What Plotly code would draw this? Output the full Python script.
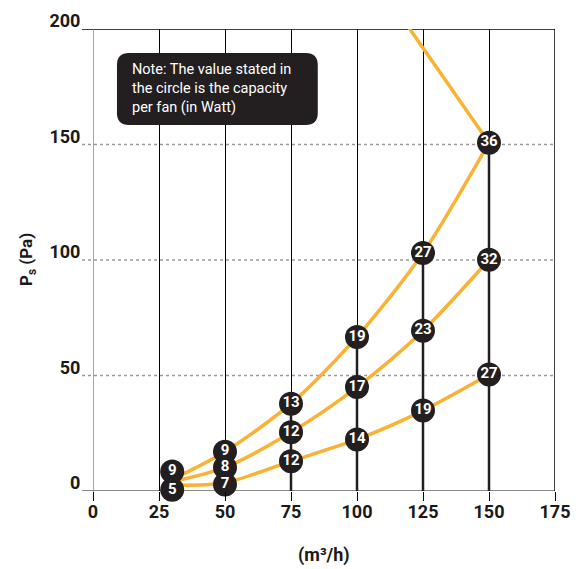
import plotly.graph_objects as go

# ---- data ----
x_ticks = [0, 25, 50, 75, 100, 125, 150, 175]
y_ticks = [0, 50, 100, 150, 200]

# fan curves (m3/h vs Pa)
curve_x = [30, 50, 75, 100, 125, 150]
curve_high = [5.0, 17.0, 37.8, 66.7, 103.0, 150.8]
curve_mid = [4.0, 10.2, 25.4, 45.0, 69.4, 100.1]
curve_low = [2.5, 3.6, 12.9, 22.3, 34.8, 50.4]

# system line beyond the top point
system_x = [150, 110]
system_y = [150.8, 216.4]

# circles: position and fan capacity (W)
pt_x = [30, 30, 50, 50, 50, 75, 75, 75, 100, 100, 100, 125, 125, 125, 150, 150, 150]
pt_y = [8.4, 0.5, 17.0, 10.2, 2.8, 37.8, 25.4, 12.9, 66.7, 45.0, 22.3, 103.0, 69.4, 34.8, 150.8, 100.1, 50.4]
pt_w = [9, 5, 9, 8, 7, 13, 12, 12, 19, 17, 14, 27, 23, 19, 36, 32, 27]

# stems from the axis to the top circle of each column
stem_x = [30, 50, 75, 100, 125, 150]
stem_top = [8.4, 17.0, 37.8, 66.7, 103.0, 150.8]

note_lines = ["Note: The value stated in", "the circle is the capacity", "per fan (in Watt)"]

# ---- style ----
ORANGE = "#F9B233"
DARK = "#231F20"
OFF = 8  # page body margin
VW, VH = 580, 569
L_ABS, R_ABS, T_ABS, B_ABS = 93, 555.5, 29, 491.5
PW, PH = R_ABS - L_ABS, B_ABS - T_ABS
W, H = VW - OFF, VH - OFF
ML, MT = L_ABS - OFF, T_ABS - OFF
MR, MB = W - (R_ABS - OFF), H - (B_ABS - OFF)

px_x = PW / 175.0
px_y = PH / 200.0


def dx(xpix):
    return (xpix - L_ABS) / px_x


def dy(ypix):
    return (B_ABS - ypix) / px_y


fig = go.Figure()

for sx, st in zip(stem_x, stem_top):
    fig.add_trace(go.Scatter(x=[sx, sx], y=[0, st], mode="lines",
                             line=dict(color=DARK, width=2.5), hoverinfo="skip",
                             showlegend=False))

for cy in (curve_high, curve_mid, curve_low):
    fig.add_trace(go.Scatter(x=curve_x, y=cy, mode="lines",
                             line=dict(color=ORANGE, width=3.5, shape="spline", smoothing=0.8),
                             showlegend=False))

fig.add_trace(go.Scatter(x=system_x, y=system_y, mode="lines",
                         line=dict(color=ORANGE, width=3.5), showlegend=False))

fig.add_trace(go.Scatter(x=pt_x, y=pt_y, mode="markers+text",
                         text=[str(v) for v in pt_w], textposition="middle center",
                         textfont=dict(family="Roboto", size=15, color="white", weight=700),
                         marker=dict(size=24, color=DARK, line=dict(width=0)),
                         cliponaxis=False, showlegend=False))

shapes = []
ext = -11 / PW
shapes.append(dict(type="line", xref="paper", yref="y", x0=ext, x1=1, y0=0, y1=0,
                   line=dict(color="#8a8a8a", width=2), layer="below"))
shapes.append(dict(type="line", xref="paper", yref="y", x0=ext, x1=1, y0=200, y1=200,
                   line=dict(color="black", width=1.5), layer="below"))
for yv in y_ticks[1:-1]:
    shapes.append(dict(type="line", xref="paper", yref="y", x0=ext, x1=1, y0=yv, y1=yv,
                       line=dict(color="#9a9a9a", width=1.3, dash="3px,3px"), layer="below"))
shapes.append(dict(type="line", xref="x", yref="paper", x0=0, x1=0, y0=-9 / PH, y1=1,
                   line=dict(color="#8a8a8a", width=1.5), layer="below"))
shapes.append(dict(type="line", xref="x", yref="paper", x0=175, x1=175, y0=0, y1=1,
                   line=dict(color="black", width=1.5), layer="below"))

# rounded note box
bx0, bx1 = dx(117), dx(318)
by1, by0 = dy(53), dy(125)
rx, ry = 12 / px_x, 12 / px_y
path = (f"M {bx0+rx},{by1} L {bx1-rx},{by1} Q {bx1},{by1} {bx1},{by1-ry} "
        f"L {bx1},{by0+ry} Q {bx1},{by0} {bx1-rx},{by0} L {bx0+rx},{by0} "
        f"Q {bx0},{by0} {bx0},{by0+ry} L {bx0},{by1-ry} Q {bx0},{by1} {bx0+rx},{by1} Z")
shapes.append(dict(type="path", xref="x", yref="y", path=path, fillcolor=DARK,
                   line=dict(width=0), layer="above"))

annotations = []
for i, line in enumerate(note_lines):
    annotations.append(dict(x=dx(130), y=dy(70 + 19 * i), xref="x", yref="y",
                            text=line, showarrow=False, xanchor="left", yanchor="middle",
                            font=dict(family="Roboto", size=14.5, color="white")))

annotations.append(dict(x=(27 - L_ABS) / PW, y=0.5, xref="paper", yref="paper",
                        text="<b>P<sub>s</sub> (Pa)</b>", textangle=-90, showarrow=False,
                        xanchor="center", yanchor="middle",
                        font=dict(family="Roboto", size=17, color="#1a1a1a")))
annotations.append(dict(x=0.5, y=-(556 - B_ABS) / PH, xref="paper", yref="paper",
                        text="<b>(m³/h)</b>", showarrow=False, xanchor="center", yanchor="middle",
                        font=dict(family="Roboto", size=18, color="#1a1a1a")))

fig.update_layout(
    width=W, height=H,
    margin=dict(l=ML, r=MR, t=MT, b=MB, autoexpand=False),
    plot_bgcolor="white", paper_bgcolor="white",
    shapes=shapes, annotations=annotations,
    xaxis=dict(range=[0, 175], tickvals=x_ticks, ticktext=[str(v) for v in x_ticks],
               showgrid=True, gridcolor="black", gridwidth=1, zeroline=False, showline=False,
               ticks="outside", ticklen=9, tickcolor="black", tickwidth=1,
               ticklabelstandoff=-5, automargin=False,
               tickfont=dict(family="Roboto", size=18, color="#1a1a1a", weight=700)),
    yaxis=dict(range=[0, 200], tickvals=y_ticks, ticktext=[str(v) for v in y_ticks],
               showgrid=False, zeroline=False, showline=False,
               ticks="outside", ticklen=8, tickcolor="rgba(0,0,0,0)",
               ticklabelshift=-8, automargin=False,
               tickfont=dict(family="Roboto", size=18, color="#1a1a1a", weight=700)),
)

fig.write_html("out.html")
